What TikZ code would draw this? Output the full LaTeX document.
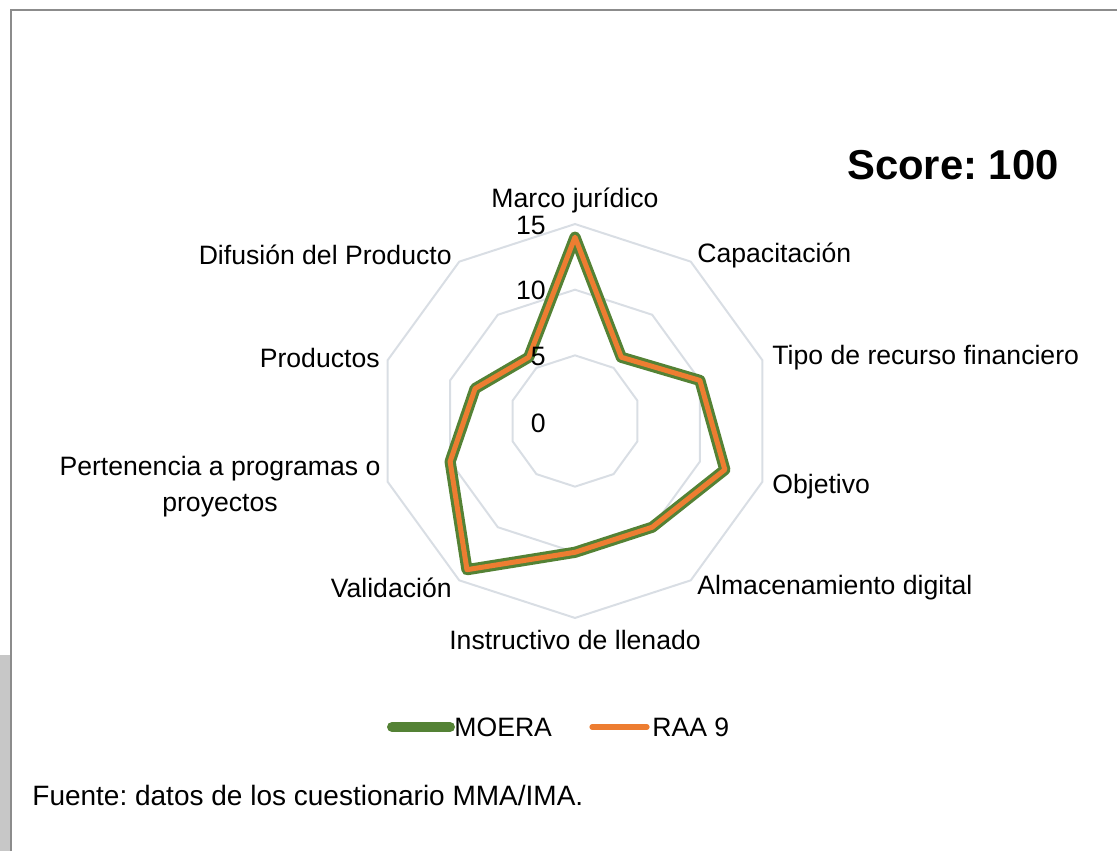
\documentclass[tikz,border=0pt]{standalone}
\usepackage{fontspec}
\setmainfont{Liberation Sans}
\usetikzlibrary{positioning}
\definecolor{moera}{HTML}{548235}
\definecolor{raa}{HTML}{ED7D31}
\definecolor{gridc}{HTML}{D9DEE4}
\definecolor{framec}{HTML}{8C8C8C}
\frenchspacing

\begin{document}
\begin{tikzpicture}[x=0.5pt, y=0.5pt, every node/.style={font=\fontsize{13.3}{16}\selectfont, inner sep=0pt}]
    \useasboundingbox (0,0) rectangle (1117,851);

    % Frame of the chart area
    \fill[black!22] (0,0) rectangle (10,196);
    \draw[framec, line width=1pt] (11,0) -- (11,841) -- (1117,841);

    % Title
    \node[font=\fontsize{20.9}{25}\selectfont\bfseries] (score) at (953, 686) {Score: 100};

    \begin{scope}[shift={(575,430)}]
        % Grid decagons (5, 10, 15)
        \foreach \r in {5,10,15}
            \draw[gridc, line width=1pt] (90:\r*13.13)
                \foreach \k in {1,...,9} { -- ({90-36*\k}:\r*13.13) } -- cycle;

        % Data points, clockwise from the top
        \foreach \v [count=\i from 0] in {14,6,10,12,10,10,14,10,8,6}
            \coordinate (d\i) at ({90-36*\i}:{\v*13.13});
    \end{scope}

    % Series (both the same)
    \draw[moera, line width=5.6pt, line join=round] (d0) -- (d1) -- (d2) -- (d3) -- (d4) -- (d5) -- (d6) -- (d7) -- (d8) -- (d9) -- cycle;
    \draw[raa, line width=2.5pt, line join=round] (d0) -- (d1) -- (d2) -- (d3) -- (d4) -- (d5) -- (d6) -- (d7) -- (d8) -- (d9) -- cycle;

    % Axis values
    \node[anchor=east] (v15) at (546, 626) {15};
    \node[anchor=east] (v10) at (546, 561) {10};
    \node[anchor=east] (v5) at (546, 495) {5};
    \node[anchor=east] (v0) at (546, 428) {0};

    % Category labels
    \node (marco) at (575, 651) {Marco jurídico};
    \node[anchor=west] (capac) at (697, 596) {Capacitación};
    \node[anchor=west] (tipo) at (772, 493) {Tipo de recurso financiero};
    \node[anchor=west] (objet) at (772, 364) {Objetivo};
    \node[anchor=west] (almac) at (697, 263) {Almacenamiento digital};
    \node (instr) at (575, 211) {Instructivo de llenado};
    \node[anchor=east] (valid) at (452, 263) {Validación};
    \node[align=center] (perten) at (220, 364.5) {Pertenencia a programas o\\[2pt]proyectos};
    \node[anchor=east] (produc) at (380, 493) {Productos};
    \node[anchor=east] (difus) at (452, 596) {Difusión del Producto};

    % Legend
    \coordinate (lg1a) at (392, 124);
    \coordinate (lg1b) at (450, 124);
    \draw[moera, line width=5pt, line cap=round] (lg1a) -- (lg1b);
    \node[anchor=west] (lmoera) at (454, 124) {MOERA};
    \coordinate (lg2a) at (592, 124);
    \coordinate (lg2b) at (647, 124);
    \draw[raa, line width=2.6pt, line cap=round] (lg2a) -- (lg2b);
    \node[anchor=west] (lraa) at (652, 124) {RAA 9};

    % Source
    \node[anchor=west, font=\fontsize{14}{17}\selectfont] (fuente) at (32, 56) {Fuente: datos de los cuestionario MMA/IMA.};
\end{tikzpicture}
\end{document}
